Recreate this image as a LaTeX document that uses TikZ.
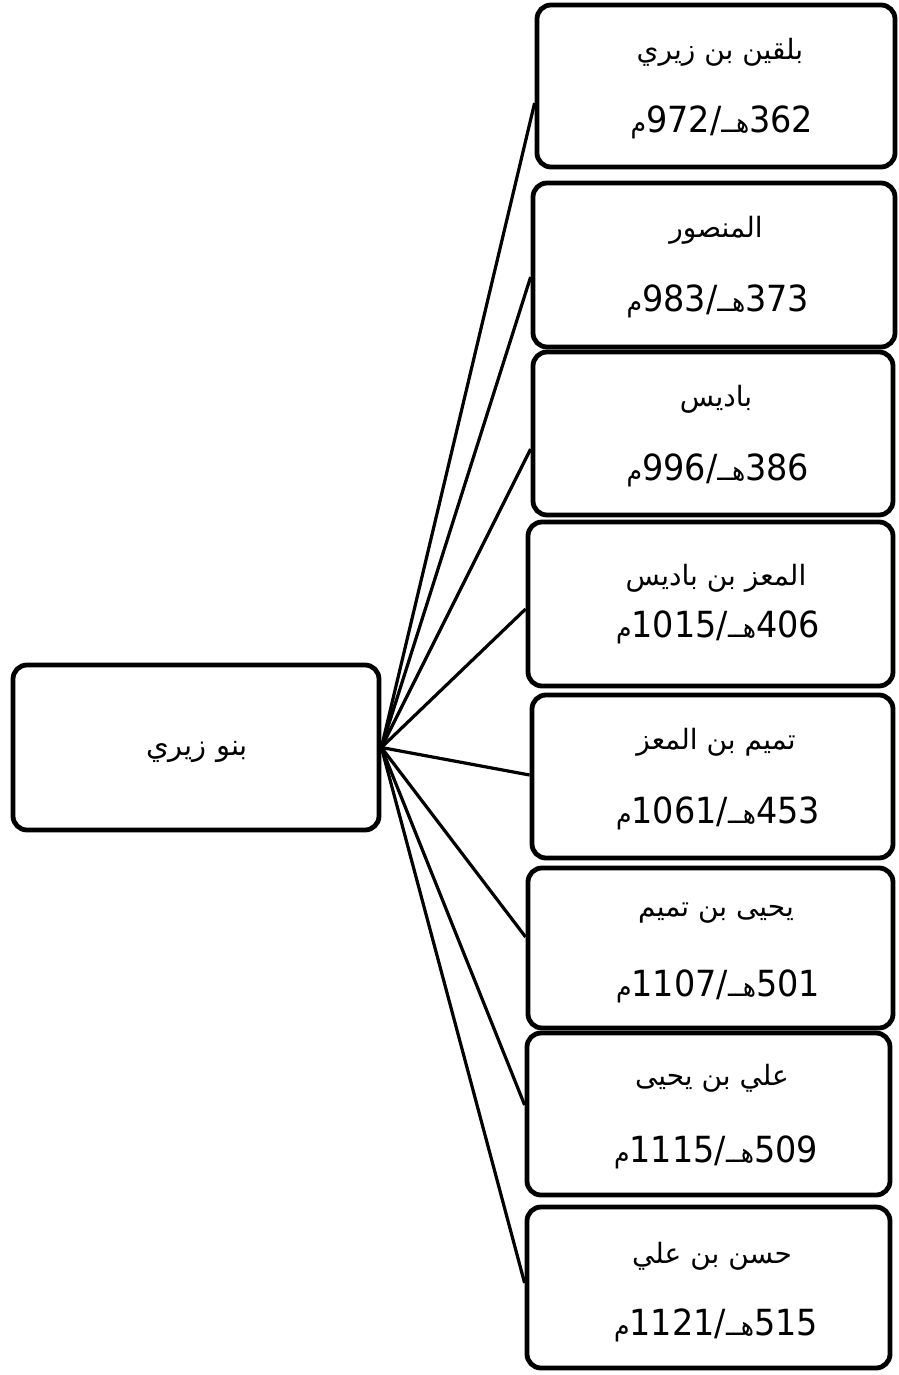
\documentclass[tikz,border=0pt]{standalone}
\usepackage{fontspec}
\usepackage{graphicx}
\usetikzlibrary{calc}
\TeXXeTstate=1
\newfontfamily\arfont[Script=Arabic]{DejaVu Sans}
\newfontfamily\numfont{DejaVu Sans}
\newcommand\arname[2][28]{{\arfont\fontsize{#1}{30}\selectfont\beginR #2\endR}}
\newcommand\dateline[2]{\scalebox{0.93}[1]{{\arfont\fontsize{27}{30}\selectfont م}{\numfont\fontsize{36}{40}\selectfont #2/}{\arfont\fontsize{27}{30}\selectfont هــ}{\numfont\fontsize{36}{40}\selectfont #1}}}
\tikzset{
  box/.style={draw, line width=4.8pt, rounded corners=14pt, fill=white, inner sep=0pt},
  link/.style={line width=3.2pt},
  nm/.style={inner sep=0pt},
  dt/.style={inner sep=0pt, anchor=base},
}
\begin{document}
\begin{tikzpicture}[x=1pt,y=-1pt]
\useasboundingbox (0,0) rectangle (898,1375);
\fill[white] (0,0) rectangle (898,1375);
% root
\node[box, minimum width=366pt, minimum height=165pt] (root) at (196,747.5) {};
\node[nm] (roott) at (197,752) {\arname[29]{بنو زيري}};
% boxes
\node[box, minimum width=358pt, minimum height=162pt] (b1) at (716,86) {};
\node[box, minimum width=362pt, minimum height=164pt] (b2) at (714,265) {};
\node[box, minimum width=360pt, minimum height=163pt] (b3) at (713,433.5) {};
\node[box, minimum width=365pt, minimum height=164pt] (b4) at (710.5,604) {};
\node[box, minimum width=361pt, minimum height=163pt] (b5) at (712.5,776.5) {};
\node[box, minimum width=365pt, minimum height=160pt] (b6) at (710.5,948) {};
\node[box, minimum width=363pt, minimum height=162pt] (b7) at (708.5,1114) {};
\node[box, minimum width=363pt, minimum height=161pt] (b8) at (708.5,1287.5) {};
% names
\node[nm] (n1) at (720,52) {\arname{بلقين بن زيري}};
\node[nm] (n2) at (716,230) {\arname{المنصور}};
\node[nm] (n3) at (716,399) {\arname{باديس}};
\node[nm] (n4) at (716,578) {\arname{المعز بن باديس}};
\node[nm] (n5) at (716,742) {\arname{تميم بن المعز}};
\node[nm] (n6) at (716,913) {\arname{يحيى بن تميم}};
\node[nm] (n7) at (712,1078) {\arname{علي بن يحيى}};
\node[nm] (n8) at (712,1256) {\arname{حسن بن علي}};
% dates
\node[dt] (d1) at (722,133) {\dateline{362}{972}};
\node[dt] (d2) at (718,311) {\dateline{373}{983}};
\node[dt] (d3) at (718,480) {\dateline{386}{996}};
\node[dt] (d4) at (718,637) {\dateline{406}{1015}};
\node[dt] (d5) at (718,823) {\dateline{453}{1061}};
\node[dt] (d6) at (718,996) {\dateline{501}{1107}};
\node[dt] (d7) at (716,1162) {\dateline{509}{1115}};
\node[dt] (d8) at (716,1335) {\dateline{515}{1121}};
% connectors
\draw[link] (root.east) -- ($(b1.west)+(0,17)$);
\draw[link] (root.east) -- ($(b2.west)+(0,12)$);
\draw[link] (root.east) -- ($(b3.west)+(0,15.5)$);
\draw[link] (root.east) -- ($(b4.west)+(0,5)$);
\draw[link] (root.east) -- ($(b5.west)+(0,-1.5)$);
\draw[link] (root.east) -- ($(b6.west)+(0,-11)$);
\draw[link] (root.east) -- ($(b7.west)+(0,-9)$);
\draw[link] (root.east) -- ($(b8.west)+(0,-4.5)$);
\end{tikzpicture}
\end{document}
